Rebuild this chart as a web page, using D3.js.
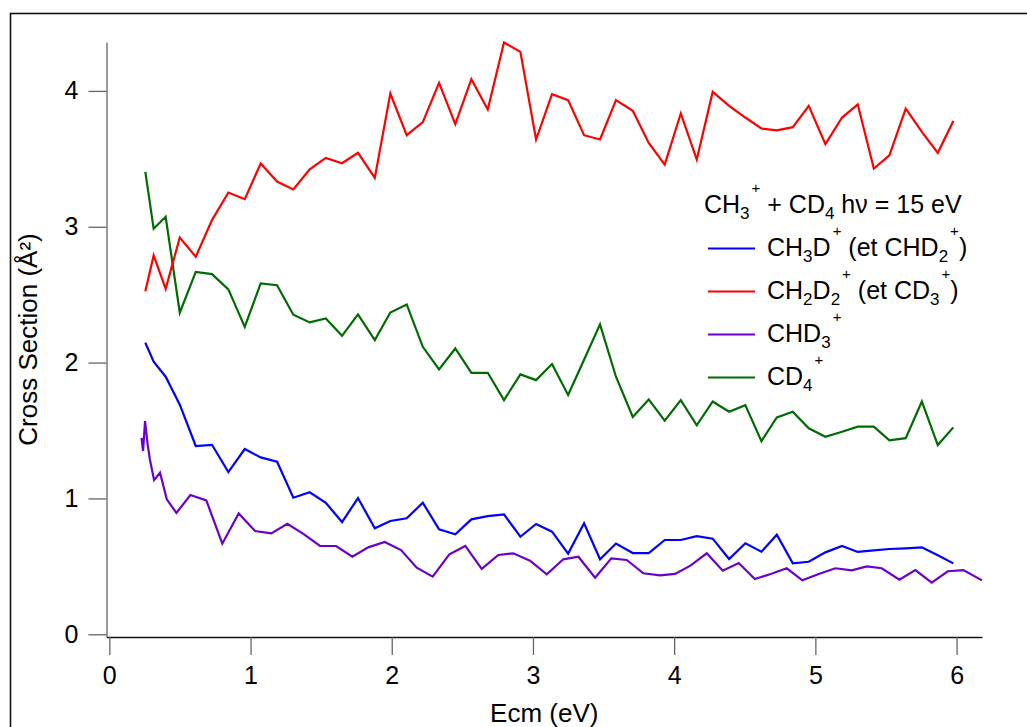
<!DOCTYPE html>
<html>
<head>
<meta charset="utf-8">
<script src="https://cdn.jsdelivr.net/npm/d3@7"></script>
<style>
  html, body { margin: 0; padding: 0; background: #fff; }
  svg { display: block; }
  text { font-family: "Liberation Sans", Arial, sans-serif; fill: #000; }
</style>
</head>
<body>
<svg id="chart" width="1027" height="727"></svg>
<script>
// ---- data ----
const ecm = [0.255,0.314,0.399,0.499,0.612,0.727,0.843,0.959,1.072,1.188,1.303,1.419,1.533,1.648,1.761,1.880,1.990,2.106,2.220,2.335,2.450,2.564,2.680,2.795,2.911,3.022,3.135,3.249,3.362,3.475,3.588,3.707,3.820,3.933,4.047,4.160,4.273,4.389,4.504,4.618,4.727,4.840,4.953,5.071,5.189,5.300,5.414,5.524,5.640,5.754,5.867,5.977];
const ch3d = [2.146,2.006,1.896,1.690,1.386,1.395,1.194,1.364,1.302,1.270,1.005,1.045,0.968,0.826,1.003,0.780,0.834,0.854,0.968,0.773,0.736,0.846,0.870,0.883,0.718,0.812,0.755,0.594,0.817,0.552,0.668,0.598,0.598,0.694,0.694,0.723,0.704,0.554,0.670,0.608,0.733,0.522,0.534,0.603,0.650,0.606,0.618,0.628,0.633,0.640,0.581,0.522];
const ch2d2 = [2.526,2.789,2.543,2.921,2.779,3.049,3.252,3.203,3.466,3.333,3.275,3.422,3.507,3.468,3.544,3.360,3.981,3.674,3.770,4.059,3.755,4.086,3.863,4.356,4.287,3.642,3.976,3.932,3.674,3.642,3.932,3.853,3.617,3.458,3.834,3.495,3.993,3.890,3.804,3.723,3.709,3.733,3.890,3.608,3.804,3.900,3.429,3.525,3.870,3.699,3.544,3.779];
const cd4 = [3.404,2.985,3.073,2.367,2.668,2.651,2.539,2.263,2.583,2.570,2.352,2.296,2.325,2.197,2.355,2.166,2.369,2.428,2.116,1.950,2.104,1.925,1.925,1.724,1.913,1.871,1.989,1.761,2.021,2.281,1.896,1.600,1.729,1.572,1.724,1.538,1.714,1.638,1.687,1.422,1.597,1.638,1.516,1.454,1.491,1.528,1.528,1.428,1.444,1.714,1.393,1.523];
const ecmCHD3 = [0.228,0.239,0.253,0.271,0.288,0.317,0.359,0.407,0.475,0.574,0.687,0.800,0.916,1.032,1.147,1.261,1.379,1.492,1.606,1.721,1.834,1.950,2.066,2.177,2.290,2.408,2.521,2.637,2.755,2.861,2.979,3.098,3.215,3.322,3.440,3.555,3.664,3.782,3.900,4.006,4.115,4.231,4.344,4.457,4.571,4.684,4.797,4.908,5.024,5.142,5.258,5.364,5.470,5.595,5.708,5.824,5.938,6.048,6.180];
const chd3 = [1.446,1.349,1.570,1.400,1.283,1.135,1.189,0.993,0.893,1.025,0.986,0.667,0.890,0.760,0.743,0.814,0.736,0.650,0.650,0.571,0.640,0.679,0.620,0.490,0.424,0.589,0.650,0.481,0.584,0.596,0.542,0.441,0.552,0.571,0.416,0.559,0.547,0.449,0.434,0.444,0.505,0.596,0.468,0.525,0.407,0.444,0.486,0.397,0.444,0.486,0.471,0.500,0.486,0.402,0.473,0.380,0.464,0.473,0.397];

const xTicks = [0, 1, 2, 3, 4, 5, 6];
const yTicks = [0, 1, 2, 3, 4];
const xTitle = "Ecm (eV)";
const yTitle = "Cross Section (Å²)";

// legend text segments: [text, kind] kind: n normal, b subscript, p superscript
const legendTitle = [["CH","n"],["3","b"],["+","p"],[" + CD","n"],["4","b"],[" h\u03BD = 15 eV","n"]];
const seriesNames = [
  [["CH","n"],["3","b"],["D","n"],["+","p"],[" (et CHD","n"],["2","b"],["+","p"],[")","n"]],
  [["CH","n"],["2","b"],["D","n"],["2","b"],["+","p"],[" (et CD","n"],["3","b"],["+","p"],[")","n"]],
  [["CHD","n"],["3","b"],["+","p"]],
  [["CD","n"],["4","b"],["+","p"]]
];
const seriesColors = ["#0000ff", "#ff0000", "#6a00cc", "#006b00"];

// ---- chart ----
const svg = d3.select("#chart");

// outer frame (right & bottom edges lie outside the picture)
svg.append("rect")
  .attr("x", 10.5).attr("y", 13.5)
  .attr("width", 1100).attr("height", 800)
  .attr("fill", "none").attr("stroke", "#111").attr("stroke-width", 1.6);

const x = d3.scaleLinear().domain([-0.02, 6.18]).range([106.5, 982]);
const y = d3.scaleLinear().domain([-0.02, 4.36]).range([637, 42]);

const FONT = '"Liberation Sans", Arial, sans-serif';

// y axis
const yAxis = d3.axisLeft(y).tickValues(yTicks).tickFormat(d3.format("d"))
  .tickSizeInner(18).tickSizeOuter(0).tickPadding(10);
const gy = svg.append("g").attr("transform", `translate(${x(-0.02)},0)`).call(yAxis);
gy.select(".domain").attr("stroke", "#666").attr("stroke-width", 1.3);
gy.selectAll(".tick line").attr("stroke", "#666").attr("stroke-width", 1.3);
gy.selectAll(".tick text").attr("font-size", 25).attr("fill", "#000").style("font-family", FONT);

// x axis
const xAxis = d3.axisBottom(x).tickValues(xTicks).tickFormat(d3.format("d"))
  .tickSizeInner(18).tickSizeOuter(0).tickPadding(11);
const gx = svg.append("g").attr("transform", `translate(0,${y(-0.02)})`).call(xAxis);
gx.select(".domain").attr("stroke", "#111").attr("stroke-width", 1.3);
gx.selectAll(".tick line").attr("stroke", "#666").attr("stroke-width", 1.3);
gx.selectAll(".tick text").attr("font-size", 25).attr("fill", "#000").style("font-family", FONT);

// titles
svg.append("text")
  .attr("x", (x.range()[0] + x.range()[1]) / 2).attr("y", 722)
  .attr("text-anchor", "middle").attr("font-size", 26).text(xTitle);
svg.append("text")
  .attr("transform", `translate(37,${(y.range()[0] + y.range()[1]) / 2}) rotate(-90)`)
  .attr("text-anchor", "middle").attr("font-size", 26).text(yTitle);

// lines
const series = [
  { xs: ecm, ys: ch3d },
  { xs: ecm, ys: ch2d2 },
  { xs: ecmCHD3, ys: chd3 },
  { xs: ecm, ys: cd4 }
];
const line = d3.line().x(d => x(d[0])).y(d => y(d[1]));
// draw order: green, red, blue, purple on top
[3, 1, 0, 2].forEach(i => {
  const s = series[i];
  svg.append("path")
    .datum(s.xs.map((v, k) => [v, s.ys[k]]))
    .attr("fill", "none")
    .attr("stroke", seriesColors[i])
    .attr("stroke-width", 2.2)
    .attr("stroke-linejoin", "miter")
    .attr("d", line);
});

// legend
function richText(g, segs, tx, ty, size) {
  const t = g.append("text").attr("x", tx).attr("y", ty).attr("font-size", size);
  let cur = 0;
  segs.forEach(([str, kind]) => {
    let target = 0, fs = size, dx = 0;
    if (kind === "b") { target = 6; fs = 17; }
    if (kind === "p") { target = -20; fs = 15; dx = 2; }
    t.append("tspan").attr("dy", target - cur).attr("dx", dx).attr("font-size", fs).text(str);
    cur = target;
  });
  return t;
}
const lg = svg.append("g");
richText(lg, legendTitle, 704, 213, 25);
const legendY = [256, 299, 342, 385];
seriesNames.forEach((segs, i) => {
  lg.append("line")
    .attr("x1", 708).attr("x2", 755)
    .attr("y1", legendY[i] - 7.5).attr("y2", legendY[i] - 7.5)
    .attr("stroke", seriesColors[i]).attr("stroke-width", 2.2);
  richText(lg, segs, 767, legendY[i], 25);
});
</script>
</body>
</html>
